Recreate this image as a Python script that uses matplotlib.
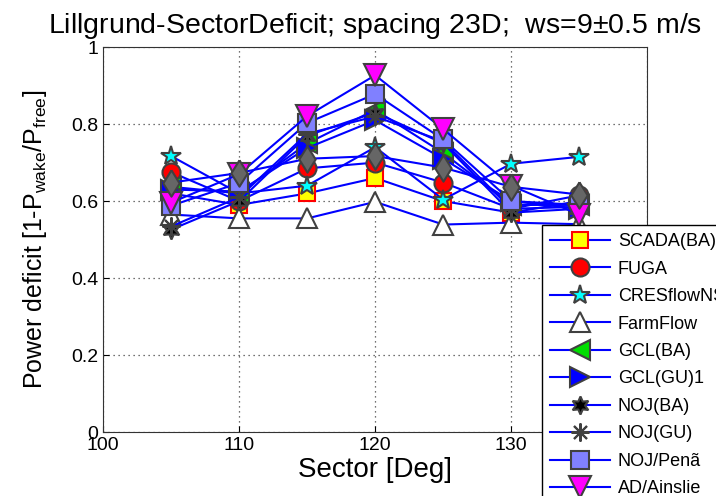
import matplotlib
matplotlib.use('Agg')
import matplotlib.pyplot as plt

plt.rcParams['font.family'] = ['Liberation Sans', 'DejaVu Sans']
plt.rcParams['mathtext.fontset'] = 'custom'
plt.rcParams['mathtext.rm'] = 'Liberation Sans'
plt.rcParams['mathtext.it'] = 'Liberation Sans'

# sector centres [deg]
sectors = [105, 110, 115, 120, 125, 130, 135]

# power deficit per model
scada = [0.62, 0.59, 0.62, 0.66, 0.60, 0.57, 0.60]
fuga = [0.675, 0.60, 0.685, 0.70, 0.648, 0.58, 0.615]
cres = [0.717, 0.62, 0.64, 0.74, 0.604, 0.697, 0.715]
farmflow = [0.565, 0.555, 0.555, 0.598, 0.539, 0.544, 0.54]
gcl_ba = [0.637, 0.62, 0.75, 0.837, 0.725, 0.59, 0.59]
gcl_gu = [0.63, 0.625, 0.738, 0.81, 0.71, 0.60, 0.58]
noj_ba = [0.526, 0.60, 0.77, 0.83, 0.75, 0.57, 0.58]
noj_gu = [0.534, 0.61, 0.775, 0.82, 0.755, 0.58, 0.585]
noj_pena = [0.588, 0.647, 0.803, 0.878, 0.76, 0.60, 0.59]
ad = [0.596, 0.67, 0.821, 0.927, 0.787, 0.64, 0.565]
ensemble = [0.648, 0.673, 0.71, 0.717, 0.687, 0.637, 0.617]

edge = '#404040'
diamond = [(0, 1), (0.62, 0), (0, -1), (-0.62, 0), (0, 1)]

series = [
    ('SCADA(BA)', scada, dict(marker='s', ms=12, mfc='yellow', mec='red')),
    ('FUGA', fuga, dict(marker='o', ms=13, mfc='red', mec=edge)),
    ('CRESflowNS', cres, dict(marker='*', ms=15, mfc='cyan', mec=edge)),
    ('FarmFlow', farmflow, dict(marker='^', ms=15, mfc='white', mec=edge)),
    ('GCL(BA)', gcl_ba, dict(marker='<', ms=15, mfc='#00dd00', mec=edge)),
    ('GCL(GU)1', gcl_gu, dict(marker='>', ms=15, mfc='blue', mec=edge)),
    ('NOJ(BA)', noj_ba, dict(marker=(6, 1, 0), ms=13, mfc='black', mec=edge)),
    ('NOJ(GU)', noj_gu, dict(marker=(8, 2, 0), ms=13, mfc='none', mec=edge)),
    ('NOJ/Penã', noj_pena, dict(marker='s', ms=13, mfc='#8080ff', mec=edge)),
    ('AD/Ainslie', ad, dict(marker='v', ms=16, mfc='magenta', mec=edge)),
    ('Ensemble', ensemble, dict(marker=diamond, ms=19, mfc='#666666', mec=edge)),
]

fig = plt.figure(figsize=(7.16, 4.96), dpi=100)
ax = fig.add_axes([0.144, 0.129, 0.76, 0.776])

handles = []
for name, vals, style in series:
    h, = ax.plot(sectors, vals, color='blue', lw=1.5, mew=1.5, label=name, **style)
    handles.append(h)

ax.set_xlim(100, 140)
ax.set_ylim(0, 1)
ax.set_xticks([100, 110, 120, 130, 140])
ax.set_yticks([0, 0.2, 0.4, 0.6, 0.8, 1])
ax.set_yticklabels(['0', '0.2', '0.4', '0.6', '0.8', '1'])
ax.grid(True, linestyle=(0, (1, 3)), color='#444444', lw=0.9)
ax.tick_params(direction='in', labelsize=14, length=4)
for s in ax.spines.values():
    s.set_color('#333333')

ax.set_title('Lillgrund-SectorDeficit; spacing 23D;  ws=9$\\pm$0.5 m/s', fontsize=20.5, pad=10)
ax.set_xlabel('Sector [Deg]', fontsize=20, labelpad=2)
ax.set_ylabel('Power deficit [1-P$_{\\mathrm{wake}}$/P$_{\\mathrm{free}}$]', fontsize=18, labelpad=16)

leg = fig.legend(handles=handles, loc='upper left', bbox_to_anchor=(542 / 716, 1 - 225 / 496),
                 fontsize=13, frameon=True, fancybox=False, framealpha=1, handlelength=3.3,
                 labelspacing=0.58, borderpad=0.45, handletextpad=0.45, borderaxespad=0)
leg.get_frame().set_edgecolor('black')
leg.get_frame().set_linewidth(1)

fig.savefig('out.png', dpi=100)
